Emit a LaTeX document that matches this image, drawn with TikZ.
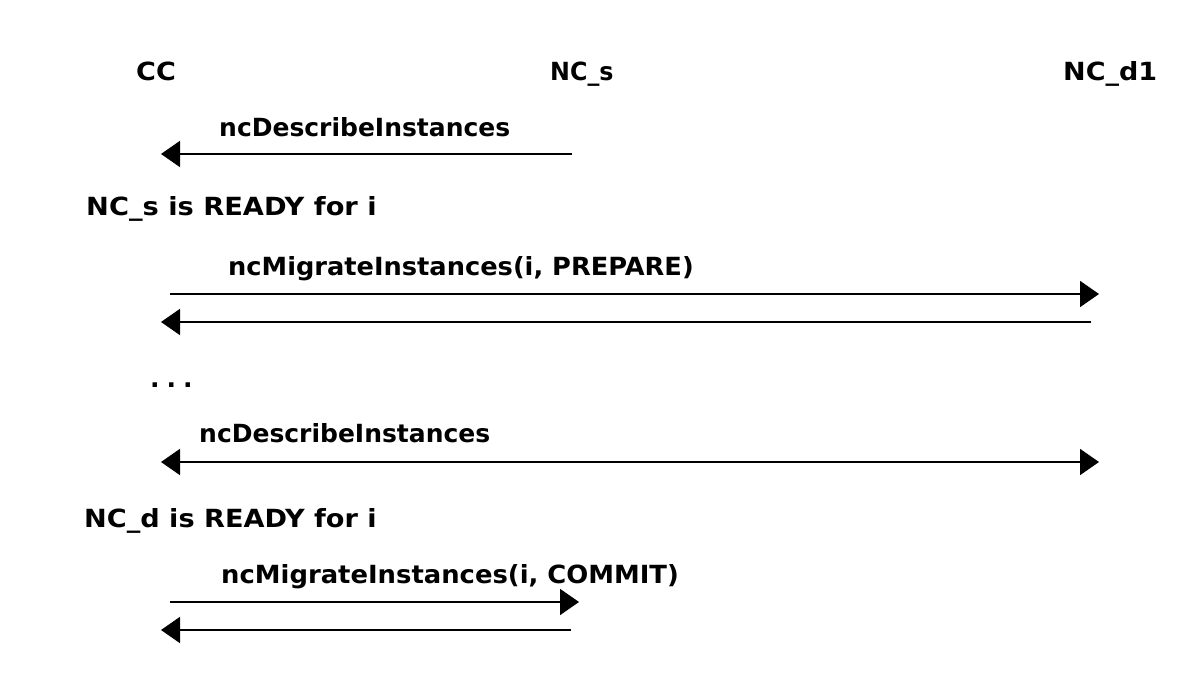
\documentclass[tikz,border=0pt]{standalone}
\usepackage{fontspec}
\setmainfont{DejaVu Sans}
\usetikzlibrary{arrows.meta}
\newcommand{\sx}[2]{\scalebox{#1}[1]{#2}}
\begin{document}
\begin{tikzpicture}[x=1pt,y=-1pt,
  lbl/.style={anchor=base west,inner sep=0pt,font=\fontsize{25}{30}\selectfont\bfseries},
  msg/.style={line width=1.8pt,-{Triangle[length=19pt,width=26pt]}},
  bimsg/.style={line width=1.8pt,{Triangle[length=19pt,width=26pt]}-{Triangle[length=19pt,width=26pt]}}]
\useasboundingbox[fill=white] (0,0) rectangle (1200,700);
% headers
\node[lbl] (cc) at (136,81) {\sx{1.08}{CC}};
\node[lbl] (ncs) at (550,81) {\sx{0.95}{NC\_s}};
\node[lbl] (ncd) at (1063,81) {\sx{1.08}{NC\_d1}};
% labels
\node[lbl] (l1) at (219,137) {\sx{1.0}{ncDescribeInstances}};
\node[lbl] (l2) at (86,216) {\sx{1.09}{NC\_s is READY for i}};
\node[lbl] (l3) at (228,276) {\sx{1.027}{ncMigrateInstances(i, PREPARE)}};
\node[lbl] (l4) at (150,388) {.\kern7pt.\kern7pt.};
\node[lbl] (l5) at (199,443) {\sx{1.0}{ncDescribeInstances}};
\node[lbl] (l6) at (84,527) {\sx{1.085}{NC\_d is READY for i}};
\node[lbl] (l7) at (221,583) {\sx{1.034}{ncMigrateInstances(i, COMMIT)}};
% endpoints
\coordinate (a1s) at (572,154); \coordinate (a1e) at (161,154);
\coordinate (a2s) at (170,294); \coordinate (a2e) at (1099,294);
\coordinate (a3s) at (1091,322); \coordinate (a3e) at (161,322);
\coordinate (a4s) at (161,462); \coordinate (a4e) at (1099,462);
\coordinate (a5s) at (170,602); \coordinate (a5e) at (579,602);
\coordinate (a6s) at (571,630); \coordinate (a6e) at (161,630);
\draw[msg] (a1s) -- (a1e);
\draw[msg] (a2s) -- (a2e);
\draw[msg] (a3s) -- (a3e);
\draw[bimsg] (a4s) -- (a4e);
\draw[msg] (a5s) -- (a5e);
\draw[msg] (a6s) -- (a6e);
\end{tikzpicture}
\end{document}
